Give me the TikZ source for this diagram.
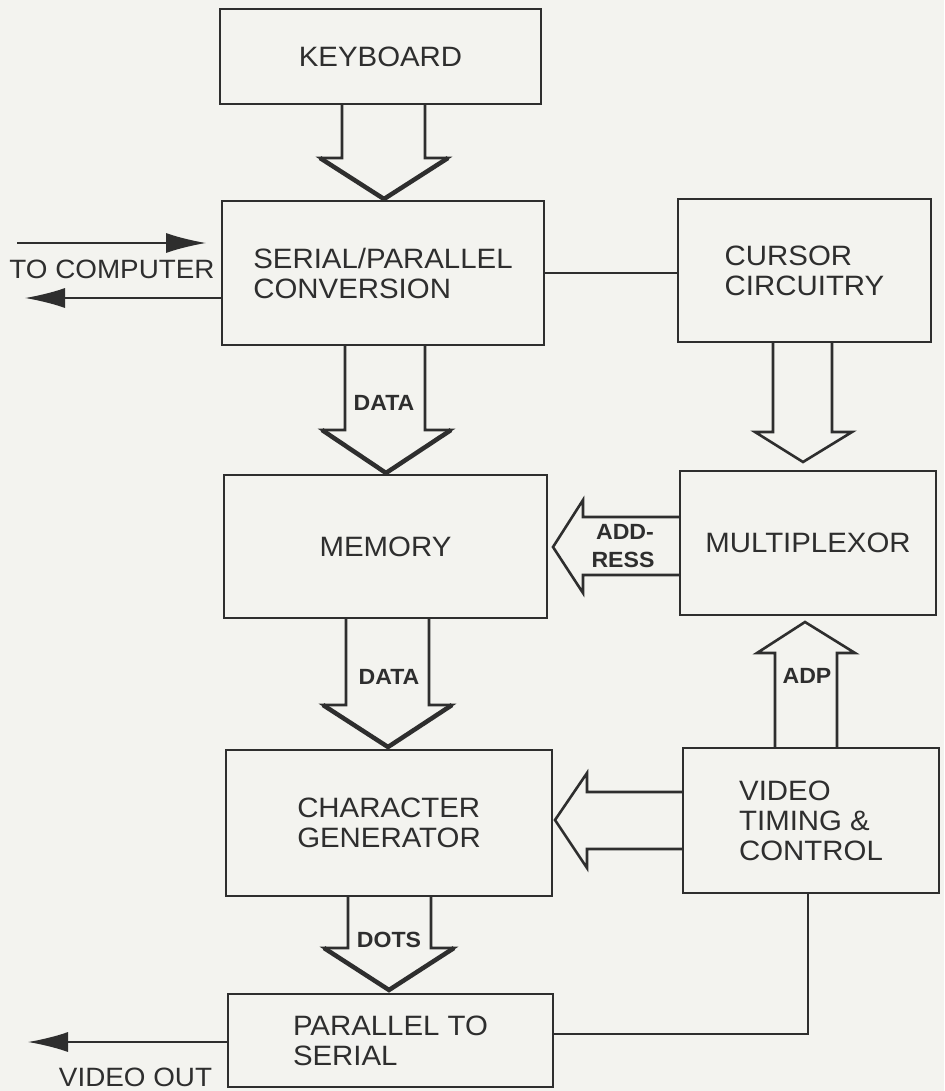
\documentclass[tikz,border=0pt]{standalone}
\usepackage{fontspec}
\setmainfont{Liberation Sans}[FakeStretch=1.05]
\usetikzlibrary{arrows.meta,calc}
\definecolor{bg}{HTML}{F3F3EF}
\definecolor{ink}{HTML}{2E2E2E}
\begin{document}
\begin{tikzpicture}[x=1pt,y=-1pt,
  box/.style={draw=ink, line width=2pt, inner sep=0pt, text=ink, align=left,
    font=\fontsize{28}{30}\selectfont},
  lbl/.style={text=ink, inner sep=0pt, font=\fontsize{22}{26}\selectfont\bfseries},
  biglbl/.style={text=ink, inner sep=0pt, font=\fontsize{26.5}{30}\selectfont},
  fat/.style={draw=ink, line width=2.6pt, line join=miter},
  fathead/.style={draw=ink, line width=4.5pt, line join=miter},
  conn/.style={draw=ink, line width=1.6pt},
  sig/.style={draw=ink, line width=1.6pt, -{Latex[length=40pt,width=20pt]}}]
\fill[bg] (0,0) rectangle (944,1091);
\useasboundingbox (0,0) rectangle (944,1091);

% boxes
\node[box, minimum width=321pt, minimum height=95pt]  (kb)  at (380.5,56.5)  {KEYBOARD};
\node[box, minimum width=322pt, minimum height=144pt] (sp)  at (383,273)     {SERIAL/PARALLEL\\CONVERSION};
\node[box, minimum width=253pt, minimum height=143pt] (cur) at (804.5,270.5) {CURSOR\\CIRCUITRY};
\node[box, minimum width=323pt, minimum height=143pt] (mem) at (385.5,546.5) {MEMORY};
\node[box, minimum width=256pt, minimum height=144pt] (mux) at (808,543)     {MULTIPLEXOR};
\node[box, minimum width=326pt, minimum height=146pt] (cg)  at (389,823)     {CHARACTER\\GENERATOR};
\node[box, minimum width=256pt, minimum height=145pt] (vtc) at (811,820.5)   {VIDEO\\TIMING \&\\CONTROL};
\node[box, minimum width=325pt, minimum height=93pt]  (p2s) at (390.5,1040.5) {PARALLEL TO\\SERIAL};

% outside labels
\node[biglbl] (tocomp) at (112,269) {TO COMPUTER};
\node[biglbl] (vidout) at (135.5,1077) {VIDEO OUT};

% fat bus arrows (down)
\draw[fat] (342,0 |- kb.south) -- (342,158) -- (320,158) -- (384,199) -- (448,158) -- (425,158) -- (425,0 |- kb.south);
\draw[fathead] (320,158) -- (384,199) -- (448,158);

\draw[fat] (345,0 |- sp.south) -- (345,430) -- (322,430) -- (386,473) -- (451,430) -- (425,430) -- (425,0 |- sp.south);
\draw[fathead] (322,430) -- (386,473) -- (451,430);
\node[lbl] (data1) at (384,403) {DATA};

\draw[fat] (346,0 |- mem.south) -- (346,705) -- (323,705) -- (388,747) -- (452,705) -- (429,705) -- (429,0 |- mem.south);
\draw[fathead] (323,705) -- (388,747) -- (452,705);
\node[lbl] (data2) at (389,677) {DATA};

\draw[fat] (348,0 |- cg.south) -- (348,948) -- (324,948) -- (389,990) -- (454,948) -- (431,948) -- (431,0 |- cg.south);
\draw[fathead] (324,948) -- (389,990) -- (454,948);
\node[lbl] (dots) at (389,940) {DOTS};

% hollow arrows
\draw[fat] (773,0 |- cur.south) -- (773,432) -- (755,432) -- (803,462) -- (852,432) -- (832,432) -- (832,0 |- cur.south);

\draw[fat] (775,0 |- vtc.north) -- (775,653) -- (757,653) -- (805,622) -- (855,653) -- (837,653) -- (837,0 |- vtc.north);
\node[lbl] (adp) at (807,676) {ADP};

\draw[fat] (mux.west |- 0,517) -- (583,517) -- (583,500) -- (553,547) -- (583,593) -- (583,575) -- (mux.west |- 0,575);
\node[lbl] (add1) at (625,532) {ADD-};
\node[lbl] (add2) at (623,560) {RESS};

\draw[fat] (vtc.west |- 0,792) -- (587,792) -- (587,773) -- (555,820) -- (587,868) -- (587,849) -- (vtc.west |- 0,849);

% thin connectors
\draw[conn] (sp.east) -- (sp.east -| cur.west);
\draw[conn] ($(vtc.south)+(-3,0)$) |- ($(p2s.east)+(0,-6.5)$);

\coordinate (tcin) at (17,243);
\coordinate (tcout) at (25,298);
\coordinate (vout) at (28,1042);
\draw[sig, shorten >=15pt] (tcin) -- (tcin -| sp.west);
\draw[sig] (sp.west |- tcout) -- (tcout);
\draw[sig] (p2s.west |- vout) -- (vout);
\end{tikzpicture}
\end{document}
